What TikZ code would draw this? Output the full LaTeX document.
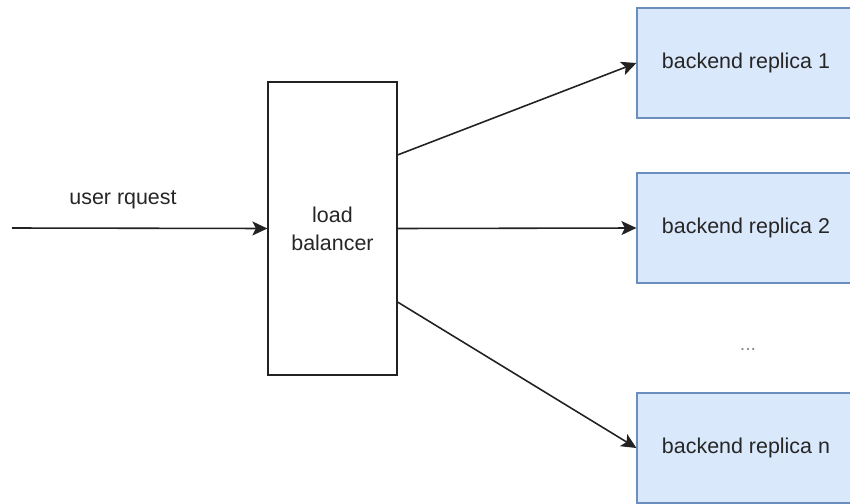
\documentclass[tikz,border=0pt]{standalone}
\usepackage{fontspec}
\setmainfont{Liberation Sans}
\usetikzlibrary{arrows.meta,calc}
\definecolor{replicafill}{HTML}{DAE8FC}
\definecolor{replicadraw}{HTML}{6C8EBF}
\definecolor{linkgray}{HTML}{222222}

\begin{document}
\begin{tikzpicture}[x=0.02cm,y=-0.02cm,
  every node/.style={font=\fontsize{12.2}{15.9}\selectfont,text=black!85},
  lbbox/.style={draw=linkgray,line width=0.7pt,minimum width=2.58cm,minimum height=5.86cm,inner sep=0pt,align=center},
  replica/.style={draw=replicadraw,fill=replicafill,line width=0.7pt,minimum width=4.36cm,minimum height=2.2cm,inner sep=0pt},
  link/.style={draw=linkgray,line width=0.9pt,-{Stealth[length=3mm,width=2.8mm,inset=0.7mm]}}]
\useasboundingbox (0,0) rectangle (850,504);
% balancer and replicas
\node[lbbox] (lb) at (332.5,228.5) {load\\balancer};
\node[replica] (rep1) at (746,63) {backend replica 1};
\node[replica] (rep2) at (746,228) {backend replica 2};
\node[replica] (repn) at (746,448) {backend replica n};
\node[text=black!45,font=\fontsize{11}{12}\selectfont] (dots) at (748,349) {...};
% incoming request
\coordinate (src) at (12,228);
\draw[link] (src) -- (lb.west);
\node (req) at (123,200) {user rquest};
% fan out
\draw[link] ($(lb.north east)!.25!(lb.south east)$) -- (rep1.west);
\draw[link] (lb.east) -- (rep2.west);
\draw[link] ($(lb.north east)!.75!(lb.south east)$) -- (repn.west);
\end{tikzpicture}
\end{document}
